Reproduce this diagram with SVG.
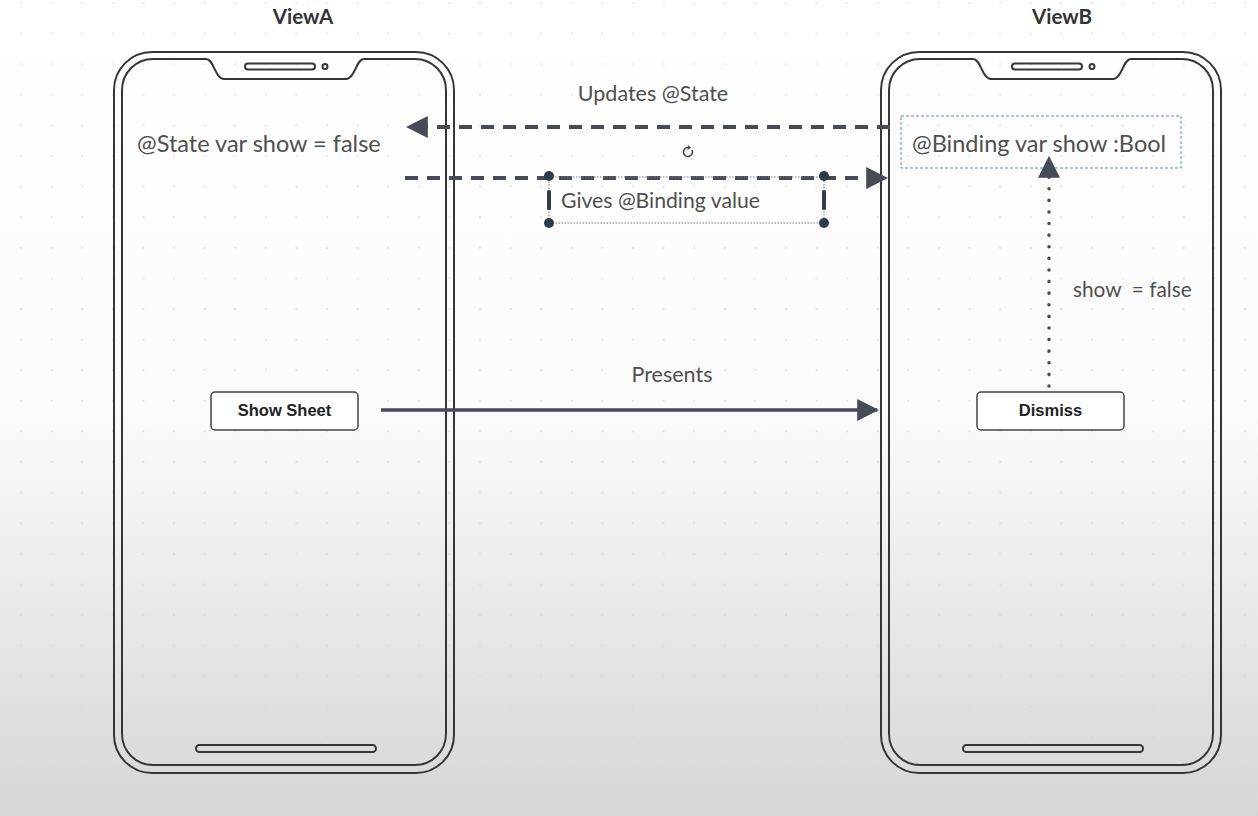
<svg xmlns="http://www.w3.org/2000/svg" width="1258" height="816" viewBox="0 0 1258 816">
<defs>
<linearGradient id="bg" x1="0" y1="0" x2="0" y2="1">
<stop offset="0" stop-color="#ffffff"/>
<stop offset="0.5" stop-color="#fbfbfb"/>
<stop offset="1" stop-color="#d6d6d6"/>
</linearGradient>
<pattern id="grid" width="30.6" height="30.6" patternUnits="userSpaceOnUse" x="20" y="2">
<circle cx="1" cy="1" r="0.9" fill="#d6d6d6"/>
</pattern>
<marker id="ah" viewBox="0 0 10 10" refX="9" refY="5" markerWidth="22" markerHeight="22" markerUnits="userSpaceOnUse" orient="auto">
<path d="M0,0 L10,5 L0,10 z" fill="#474b55"/>
</marker>
<g id="phone">
<rect x="0" y="0" width="340" height="721" rx="38" class="ph"/>
<path class="ph" d="M39,7 L92,7 C100,7 101,27 110,27 L232,27 C241,27 242,7 250,7 L301,7 A31,31 0 0 1 332,38 L332,682 A31,31 0 0 1 301,713 L39,713 A31,31 0 0 1 8,682 L8,38 A31,31 0 0 1 39,7 Z"/>
<rect x="131" y="11.5" width="70" height="6" rx="3" class="ph"/>
<circle cx="211" cy="14.5" r="2.5" class="ph"/>
<rect x="82" y="693" width="180" height="7" rx="3.5" class="ph"/>
</g>
</defs>
<style>
.ph{fill:none;stroke:#363636;stroke-width:2}
.lbl{font-family:Lato,"Liberation Sans",sans-serif;fill:#4f4f4f}
.title{font-family:Lato,"Liberation Sans",sans-serif;font-weight:bold;font-size:20.5px;fill:#333;text-anchor:middle}
.btn rect{fill:#fff;stroke:#444;stroke-width:1.5}
.btn text{font-family:"Liberation Sans",Arial,sans-serif;font-weight:bold;font-size:16.5px;fill:#222;text-anchor:middle}
.conn{stroke:#474b55;fill:none}
</style>
<rect width="1258" height="816" fill="url(#bg)"/>
<rect width="1258" height="816" fill="url(#grid)" opacity="0.7"/>

<g id="viewA">
<text class="title" x="303" y="24">ViewA</text>
<use href="#phone" transform="translate(114,52)"/>
<text class="lbl" x="137" y="152" font-size="23.5">@State var show = false</text>
</g>

<g id="viewB">
<text class="title" x="1062" y="24">ViewB</text>
<use href="#phone" transform="translate(881,52)"/>
</g>

<g id="bindingVar">
<rect x="901" y="116" width="280" height="52" fill="none" stroke="#5b8ac8" stroke-width="1" stroke-dasharray="3,2"/>
<text class="lbl" x="912" y="152" font-size="23.5">@Binding var show :Bool</text>
</g>

<g id="showSheet" class="btn">
<rect x="211" y="392" width="147" height="38" rx="4"/>
<text x="284.5" y="416">Show Sheet</text>
</g>

<g id="dismiss" class="btn">
<rect x="977" y="392" width="147" height="38" rx="4"/>
<text x="1050.5" y="416">Dismiss</text>
</g>

<g id="connectors">
<line class="conn" x1="890" y1="127" x2="408" y2="127" stroke-width="4" stroke-dasharray="13,9" marker-end="url(#ah)"/>
<text class="lbl" x="653" y="101" font-size="21.5" text-anchor="middle">Updates @State</text>

<line class="conn" x1="405" y1="178" x2="886" y2="178" stroke-width="4" stroke-dasharray="13,9" marker-end="url(#ah)"/>
<g id="gives">
<rect x="549" y="177" width="275" height="46" fill="none" stroke="#777" stroke-width="1" stroke-dasharray="1.5,1.5"/>
<text class="lbl" x="561" y="208" font-size="21.2">Gives @Binding value</text>
<g fill="#2f3a4a">
<circle cx="549" cy="176" r="5"/><circle cx="824" cy="176" r="5"/>
<circle cx="549" cy="223" r="5"/><circle cx="824" cy="223" r="5"/>
<rect x="547" y="190" width="4" height="20" rx="1.5"/><rect x="822" y="190" width="4" height="20" rx="1.5"/>
</g>
<path d="M692,150 A4.5,4.5 0 1 1 688,147.5" fill="none" stroke="#444" stroke-width="1.6"/>
<path d="M688,145 L691,147.8 L687.5,150 z" fill="#444"/>
</g>

<line class="conn" x1="381" y1="410" x2="877" y2="410" stroke-width="3.5" marker-end="url(#ah)"/>
<text class="lbl" x="672" y="382" font-size="21.5" text-anchor="middle">Presents</text>

<line class="conn" x1="1049" y1="386" x2="1049" y2="158" stroke-width="3.5" stroke-dasharray="0.1,11.5" stroke-linecap="round" marker-end="url(#ah)"/>
<text class="lbl" x="1073" y="297" font-size="20.8" xml:space="preserve">show  = false</text>
</g>
</svg>
